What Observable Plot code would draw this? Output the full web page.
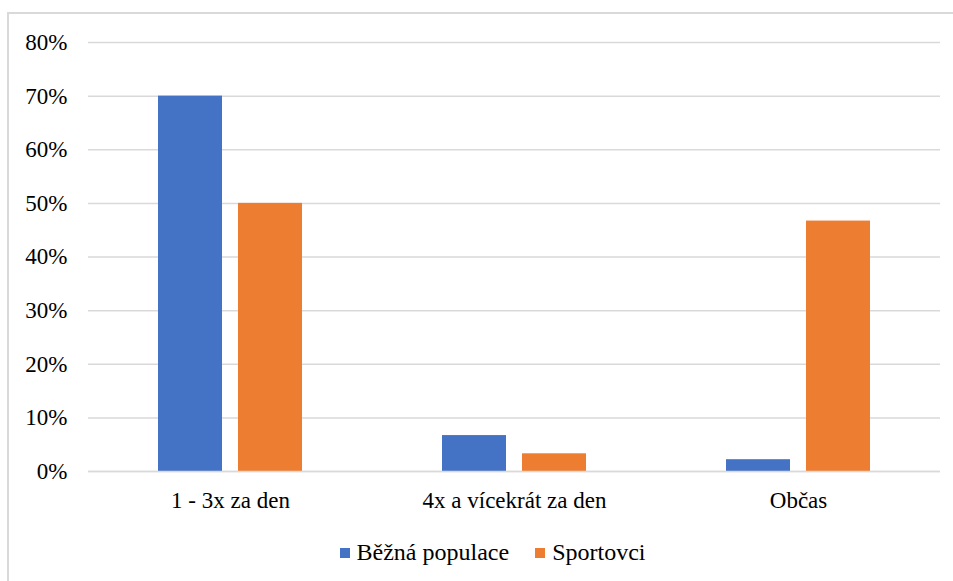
<!DOCTYPE html>
<html>
<head>
<meta charset="utf-8">
<script src="https://cdn.jsdelivr.net/npm/d3@7"></script>
<script src="https://cdn.jsdelivr.net/npm/@observablehq/plot@0.6"></script>
<style>
  html, body { margin: 0; padding: 0; background: #fff; }
  body { width: 953px; height: 581px; position: relative; overflow: hidden; font-family: "Liberation Serif", "Times New Roman", Tinos, "DejaVu Serif", serif; }
  #frame { position: absolute; left: 7px; top: 12px; width: 960px; height: 600px; border-left: 2px solid #d9d9d9; border-top: 2px solid #d9d9d9; box-sizing: border-box; }
  #chart { position: absolute; left: 0; top: 0; }
  #legend { position: absolute; top: 538px; left: 16px; width: 953px; display: flex; justify-content: center; font-size: 24px; color: #000; line-height: 28px; }
  .item { display: flex; align-items: center; margin: 0 13px; }
  .sw { width: 10px; height: 10px; margin-right: 7px; margin-top: 2px; }
</style>
</head>
<body>
<div id="frame"></div>
<div id="chart"></div>
<div id="legend"></div>
<script>
const categories = ["1 - 3x za den", "4x a vícekrát za den", "Občas"];
const series = ["Běžná populace", "Sportovci"];
const colors = ["#4472C4", "#ED7D31"];
const bezna = [0.70, 0.067, 0.022];
const sportovci = [0.50, 0.033, 0.467];
const yTicks = [0, 0.1, 0.2, 0.3, 0.4, 0.5, 0.6, 0.7, 0.8];

const data = [];
categories.forEach((c, i) => {
  data.push({cat: c, s: series[0], v: bezna[i]});
  data.push({cat: c, s: series[1], v: sportovci[i]});
});

const serif = "'Liberation Serif', 'Times New Roman', Tinos, 'DejaVu Serif', serif";

const chart = Plot.plot({
  width: 953,
  height: 520,
  marginLeft: 88,
  marginRight: 13,
  marginTop: 42,
  marginBottom: 49,
  style: {fontFamily: serif, fontSize: "23px", background: "transparent", color: "#000"},
  fx: {domain: categories, padding: 0, label: null, axis: "bottom", tickSize: 0, tickPadding: 20},
  x: {domain: series, paddingInner: 0.205, paddingOuter: 0.86, axis: null},
  y: {domain: [0, 0.8], ticks: yTicks, tickFormat: d => Math.round(d * 100) + "%", label: null, tickSize: 0, tickPadding: 21},
  color: {domain: series, range: colors},
  marks: [
    Plot.gridY(yTicks, {stroke: "#d9d9d9", strokeOpacity: 1, strokeWidth: 1.5, facetAnchor: null}),
    Plot.barY(data, {fx: "cat", x: "s", y: "v", fill: "s"}),
    Plot.ruleY([0], {stroke: "#d9d9d9", strokeWidth: 1.5})
  ]
});
document.getElementById("chart").appendChild(chart);

const legend = document.getElementById("legend");
series.forEach((s, i) => {
  const it = document.createElement("div");
  it.className = "item";
  const sw = document.createElement("span");
  sw.className = "sw";
  sw.style.background = colors[i];
  const t = document.createElement("span");
  t.textContent = s;
  it.appendChild(sw);
  it.appendChild(t);
  legend.appendChild(it);
});
</script>
</body>
</html>
